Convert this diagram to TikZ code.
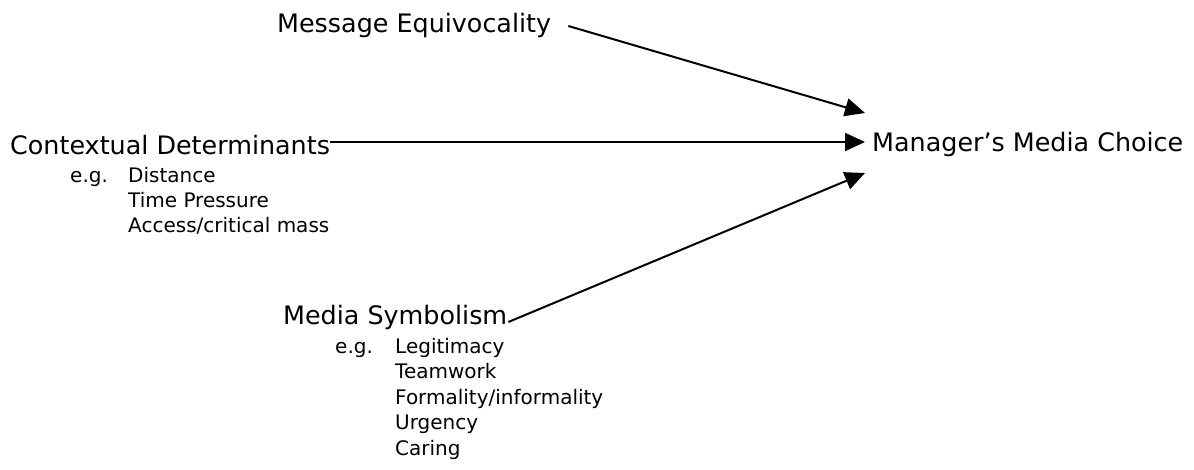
\documentclass[tikz,border=0pt]{standalone}
\usepackage{fontspec}
\setmainfont{DejaVu Sans}
\usetikzlibrary{arrows.meta}

\begin{document}
\begin{tikzpicture}
    [x=1pt,y=-1pt,
     every node/.style={inner sep=0pt,anchor=base west},
     big/.style={font=\fontsize{25.4}{30}\selectfont},
     small/.style={font=\fontsize{20}{24}\selectfont},
     arr/.style={line width=2pt,-{Triangle[length=20pt,width=18pt]}}]
    \useasboundingbox (0,0) rectangle (1194,470);

    \node[big] (msg) at (277,33) {Message Equivocality};
    \node[big] (ctx) at (10,155) {Contextual Determinants};
    \node[big] (choice) at (872,152) {Manager’s Media Choice};
    \node[big] (sym) at (283,325) {Media Symbolism};

    \node[small] (ctx0) at (70,183) {e.g.};
    \node[small] (ctx1) at (128,183) {Distance};
    \node[small] (ctx2) at (128,208) {Time Pressure};
    \node[small] (ctx3) at (128,233) {Access/critical mass};

    \node[small] (sym0) at (335,353) {e.g.};
    \node[small] (sym1) at (395,353) {Legitimacy};
    \node[small] (sym2) at (395,378) {Teamwork};
    \node[small] (sym3) at (395,404) {Formality/informality};
    \node[small] (sym4) at (395,429) {Urgency};
    \node[small] (sym5) at (395,455) {Caring};

    \coordinate (t1) at (865,113);
    \coordinate (t2) at (865,142);
    \coordinate (t3) at (865,173);

    \draw[arr] ([xshift=17pt]msg.east) -- (t1);
    \draw[arr] (ctx.east |- t2) -- (t2);
    \draw[arr] ([xshift=1pt,yshift=-4pt]sym.east) -- (t3);
  \end{tikzpicture}
\end{document}
